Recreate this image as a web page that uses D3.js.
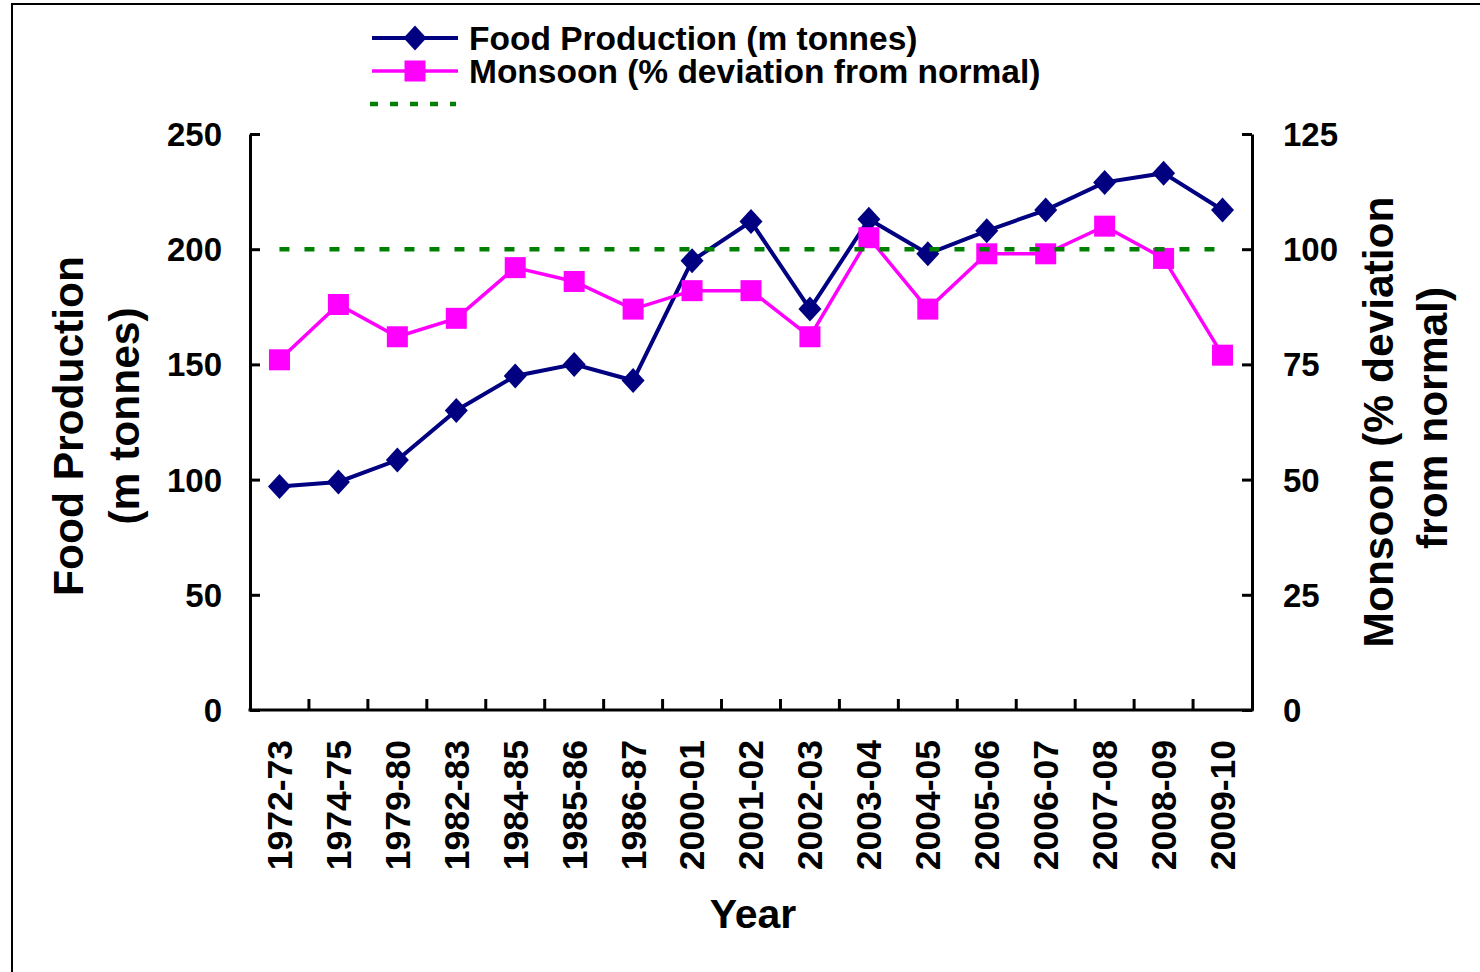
<!DOCTYPE html>
<html>
<head>
<meta charset="utf-8">
<script src="https://cdnjs.cloudflare.com/ajax/libs/d3/7.8.5/d3.min.js"></script>
<style>
  html, body { margin: 0; padding: 0; background: #fff; }
  svg { display: block; }
  text { font-family: "Liberation Sans", Arial, sans-serif; font-weight: bold; fill: #000; }
</style>
</head>
<body>
<svg id="chart" width="1480" height="972"></svg>
<script>
const categories = ["1972-73","1974-75","1979-80","1982-83","1984-85","1985-86","1986-87","2000-01","2001-02","2002-03","2003-04","2004-05","2005-06","2006-07","2007-08","2008-09","2009-10"];
const foodProduction = [97, 99, 108.5, 130, 145, 150, 143, 195, 212, 174, 213, 198, 208, 217, 229, 233, 217];
const monsoon = [76, 88, 81, 85, 96, 93, 87, 91, 91, 81, 102.5, 87, 99, 99, 105, 98, 77];
const normalLine = [100,100,100,100,100,100,100,100,100,100,100,100,100,100,100,100,100];
const leftTicks = [0, 50, 100, 150, 200, 250];
const rightTicks = [0, 25, 50, 75, 100, 125];
const legendLabels = ["Food Production (m tonnes)", "Monsoon (% deviation from normal)", ""];

const NAVY = "#000080", MAGENTA = "#FF00FF", GREEN = "#008000";

const svg = d3.select("#chart");
const L = 250, R = 1252, T = 134, B = 710;

// outer frame
svg.append("rect").attr("x", 12).attr("y", 4).attr("width", 1600).attr("height", 1100)
  .attr("fill", "none").attr("stroke", "#000").attr("stroke-width", 2);

const x = d3.scaleBand().domain(categories).range([L, R]).paddingInner(0).paddingOuter(0);
const yL = d3.scaleLinear().domain([0, 250]).range([B, T]);
const yR = d3.scaleLinear().domain([0, 125]).range([B, T]);
const cx = d => x(d) + x.bandwidth() / 2;

// axes
const gL = svg.append("g").attr("transform", `translate(${L},0)`)
  .call(d3.axisLeft(yL).tickValues(leftTicks).tickSizeInner(-10).tickSizeOuter(0).tickPadding(28));
const gR = svg.append("g").attr("transform", `translate(${R},0)`)
  .call(d3.axisRight(yR).tickValues(rightTicks).tickSizeInner(-10).tickSizeOuter(0).tickPadding(31));
[gL, gR].forEach(g => {
  g.select(".domain").attr("stroke", "#000").attr("stroke-width", 3);
  g.selectAll(".tick line").attr("stroke", "#000").attr("stroke-width", 3);
  g.selectAll(".tick text").style("font-size", "33px").attr("dy", "0.35em");
});

// x axis line and boundary ticks
const gX = svg.append("g");
gX.append("line").attr("x1", L - 1.5).attr("x2", R + 1.5).attr("y1", B).attr("y2", B)
  .attr("stroke", "#000").attr("stroke-width", 3);
gX.selectAll("line.xt").data(categories.slice(1)).join("line").attr("class", "xt")
  .attr("x1", d => x(d)).attr("x2", d => x(d)).attr("y1", B).attr("y2", B - 11)
  .attr("stroke", "#000").attr("stroke-width", 3);
gX.selectAll("text.xl").data(categories).join("text").attr("class", "xl")
  .attr("transform", d => `translate(${cx(d)},740) rotate(-90)`)
  .attr("text-anchor", "end").attr("dy", "0.35em").style("font-size", "35.5px").text(d => d);

// axis titles
svg.append("text").attr("transform", "translate(68,426) rotate(-90)").attr("text-anchor", "middle")
  .attr("dy", "0.35em").style("font-size", "42.5px").text("Food Production");
svg.append("text").attr("transform", "translate(124,416) rotate(-90)").attr("text-anchor", "middle")
  .attr("dy", "0.35em").style("font-size", "42.5px").text("(m tonnes)");
svg.append("text").attr("transform", "translate(1378,422) rotate(-90)").attr("text-anchor", "middle")
  .attr("dy", "0.35em").style("font-size", "42.5px").text("Monsoon (% deviation");
svg.append("text").attr("transform", "translate(1432,418) rotate(-90)").attr("text-anchor", "middle")
  .attr("dy", "0.35em").style("font-size", "42.5px").text("from normal)");
svg.append("text").attr("x", 753).attr("y", 914).attr("text-anchor", "middle")
  .attr("dy", "0.35em").style("font-size", "41px").text("Year");

const diamond = (hw, hh) => `M0,${-hh}L${hw},0L0,${hh}L${-hw},0Z`;

// food production series
const lineL = d3.line().x((d, i) => cx(categories[i])).y(d => yL(d));
svg.append("path").datum(foodProduction).attr("d", lineL)
  .attr("fill", "none").attr("stroke", NAVY).attr("stroke-width", 4).attr("stroke-linejoin", "miter");
svg.append("g").selectAll("path").data(foodProduction).join("path")
  .attr("transform", (d, i) => `translate(${cx(categories[i])},${yL(d)})`)
  .attr("d", diamond(11.5, 12.5)).attr("fill", NAVY);

// monsoon series
const lineR = d3.line().x((d, i) => cx(categories[i])).y(d => yR(d));
svg.append("path").datum(monsoon).attr("d", lineR)
  .attr("fill", "none").attr("stroke", MAGENTA).attr("stroke-width", 3.5);
svg.append("g").selectAll("rect").data(monsoon).join("rect")
  .attr("x", (d, i) => cx(categories[i]) - 10.5).attr("y", d => yR(d) - 10.5)
  .attr("width", 21).attr("height", 21).attr("fill", MAGENTA);

// normal (100) line
svg.append("path").datum(normalLine).attr("d", lineR)
  .attr("fill", "none").attr("stroke", GREEN).attr("stroke-width", 4.5).attr("stroke-dasharray", "10,15");

// legend
const lg = svg.append("g");
const rows = [38, 71, 104];
lg.append("line").attr("x1", 372).attr("x2", 458).attr("y1", rows[0]).attr("y2", rows[0]).attr("stroke", NAVY).attr("stroke-width", 4);
lg.append("path").attr("transform", `translate(415,${rows[0]})`).attr("d", diamond(11.5, 12.5)).attr("fill", NAVY);
lg.append("line").attr("x1", 372).attr("x2", 458).attr("y1", rows[1]).attr("y2", rows[1]).attr("stroke", MAGENTA).attr("stroke-width", 3.5);
lg.append("rect").attr("x", 404.5).attr("y", rows[1] - 10.5).attr("width", 21).attr("height", 21).attr("fill", MAGENTA);
lg.append("line").attr("x1", 370).attr("x2", 456).attr("y1", rows[2]).attr("y2", rows[2]).attr("stroke", GREEN).attr("stroke-width", 4.5).attr("stroke-dasharray", "8,12");
lg.selectAll("text").data(legendLabels).join("text")
  .attr("x", 469).attr("y", (d, i) => rows[i]).attr("dy", "0.35em").style("font-size", "33.5px").text(d => d);
</script>
</body>
</html>
